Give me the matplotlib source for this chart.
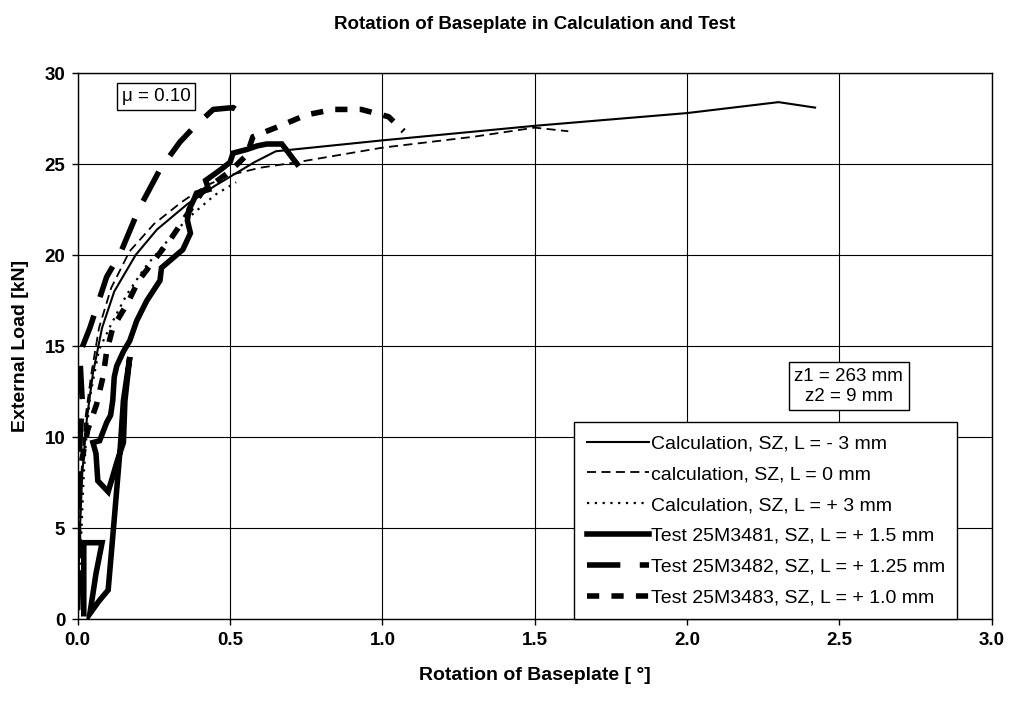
import matplotlib
matplotlib.use('Agg')
import matplotlib.pyplot as plt

plt.rcParams['font.family'] = ['Liberation Sans', 'DejaVu Sans']

# Calculation curves
calc_m3_x = [0.0, 0.005, 0.015, 0.03, 0.05, 0.08, 0.12, 0.19, 0.26, 0.36, 0.45, 0.51, 0.58, 0.65, 1.0, 1.5, 2.0, 2.3, 2.42]
calc_m3_y = [0.0, 4.0, 8.0, 11.0, 13.5, 16.0, 18.0, 20.0, 21.4, 22.8, 23.8, 24.4, 25.1, 25.7, 26.3, 27.1, 27.8, 28.4, 28.1]

calc_0_x = [0.0, 0.005, 0.012, 0.025, 0.045, 0.07, 0.11, 0.17, 0.25, 0.34, 0.42, 0.5, 0.6, 0.72, 1.0, 1.3, 1.5, 1.61]
calc_0_y = [0.0, 4.0, 8.0, 11.0, 13.5, 16.0, 18.2, 20.2, 21.7, 22.9, 23.8, 24.4, 24.8, 25.1, 25.9, 26.5, 27.0, 26.8]

calc_p3_x = [0.0, 0.01, 0.02, 0.03, 0.04, 0.07, 0.11, 0.16, 0.22, 0.28, 0.36, 0.45, 0.52]
calc_p3_y = [0.0, 4.0, 8.0, 10.4, 12.2, 14.8, 16.2, 17.8, 19.3, 20.5, 22.0, 23.3, 24.0]

# Test curves
t3481_x = [0.02, 0.02, 0.08, 0.06, 0.04, 0.07, 0.10, 0.12, 0.14, 0.15, 0.171, 0.155, 0.15, 0.13, 0.10,
           0.066, 0.06, 0.05, 0.072, 0.095, 0.108, 0.115, 0.12, 0.128, 0.15, 0.171, 0.194, 0.227,
           0.27, 0.275, 0.345, 0.37, 0.36, 0.365, 0.38, 0.39, 0.43, 0.42, 0.47, 0.50, 0.51, 0.555,
           0.59, 0.62, 0.67, 0.72]
t3481_y = [0.3, 4.2, 4.2, 2.5, 0.3, 1.0, 1.6, 5.5, 9.5, 12.0, 14.4, 12.0, 9.7, 8.7, 7.0,
           7.6, 9.1, 9.7, 9.8, 10.8, 11.2, 12.0, 13.3, 13.9, 14.7, 15.3, 16.4, 17.5,
           18.6, 19.3, 20.3, 21.2, 21.9, 22.5, 23.0, 23.4, 23.6, 24.1, 24.7, 25.1, 25.6, 25.8,
           26.0, 26.1, 26.1, 25.0]

t3482_x = [0.0, 0.005, 0.0, 0.005, 0.015, 0.01, 0.007, 0.04, 0.095, 0.14, 0.20, 0.27, 0.335, 0.38, 0.445, 0.51, 0.555]
t3482_y = [0.5, 3.0, 6.0, 9.0, 12.0, 13.5, 14.6, 16.0, 18.8, 20.1, 22.5, 24.7, 26.2, 27.0, 28.0, 28.1, 27.6]

t3483_x = [0.01, 0.0, 0.005, 0.033, 0.062, 0.083, 0.095, 0.115, 0.165, 0.2, 0.31, 0.41, 0.5, 0.555, 0.575,
           0.665, 0.75, 0.84, 0.93, 1.02, 1.07]
t3483_y = [2.0, 6.0, 8.0, 10.4, 11.8, 13.3, 14.7, 16.0, 17.4, 18.6, 21.0, 23.5, 24.6, 25.5, 26.5,
           27.1, 27.7, 28.0, 28.0, 27.6, 26.8]

labels = ['Calculation, SZ, L = - 3 mm',
          'calculation, SZ, L = 0 mm',
          'Calculation, SZ, L = + 3 mm',
          'Test 25M3481, SZ, L = + 1.5 mm',
          'Test 25M3482, SZ, L = + 1.25 mm',
          'Test 25M3483, SZ, L = + 1.0 mm']

fig = plt.figure(figsize=(10.09, 7.02), dpi=100)
ax = fig.add_axes([0.077, 0.118, 0.906, 0.778])

ax.plot(calc_m3_x, calc_m3_y, color='black', lw=1.5, label=labels[0])
ax.plot(calc_0_x, calc_0_y, color='black', lw=1.3, dashes=(5, 3), label=labels[1])
ax.plot(calc_p3_x, calc_p3_y, color='black', lw=1.6, dashes=(1, 2.5), label=labels[2])
ax.plot(t3481_x, t3481_y, color='black', lw=4, solid_joinstyle='miter', label=labels[3])
ax.plot(t3482_x, t3482_y, color='black', lw=4, dashes=(6, 3.5), label=labels[4])
ax.plot(t3483_x, t3483_y, color='black', lw=4, dashes=(2.2, 2.2), label=labels[5])

ax.set_xlim(0, 3.0)
ax.set_ylim(0, 30)
ax.set_xticks([0.0, 0.5, 1.0, 1.5, 2.0, 2.5, 3.0])
ax.set_xticklabels(['0.0', '0.5', '1.0', '1.5', '2.0', '2.5', '3.0'])
ax.set_yticks(range(0, 31, 5))
ax.grid(True, color='black', lw=0.8)
ax.set_axisbelow(True)
for s in ax.spines.values():
    s.set_color('black')
    s.set_linewidth(1.0)
ax.tick_params(direction='out', length=4, width=1, labelsize=13.5, pad=5)
for t in ax.get_xticklabels() + ax.get_yticklabels():
    t.set_fontweight('bold')

ax.set_xlabel('Rotation of Baseplate [ °]', fontsize=14, fontweight='bold', labelpad=13)
ax.set_ylabel('External Load [kN]', fontsize=14, fontweight='bold', labelpad=11)
ax.set_title('Rotation of Baseplate in Calculation and Test', fontsize=13.5, fontweight='bold', pad=32)

ax.text(0.257, 28.7, 'μ = 0.10', fontsize=13.5, ha='center', va='center',
        bbox=dict(boxstyle='square,pad=0.25', facecolor='white', edgecolor='black', lw=1))
ax.text(2.531, 12.8, 'z1 = 263 mm\nz2 = 9 mm', fontsize=13.5, ha='center', va='center',
        linespacing=1.25,
        bbox=dict(boxstyle='square,pad=0.3', facecolor='white', edgecolor='black', lw=1))

leg = ax.legend(loc='upper left', bbox_to_anchor=(0.5428, 0.3608), fontsize=14, frameon=True,
                fancybox=False, edgecolor='black', framealpha=1, handlelength=3.2,
                handletextpad=0.1, borderpad=0.65, labelspacing=0.68, borderaxespad=0)
leg.get_frame().set_linewidth(1.0)

fig.savefig('out.png', dpi=100)
